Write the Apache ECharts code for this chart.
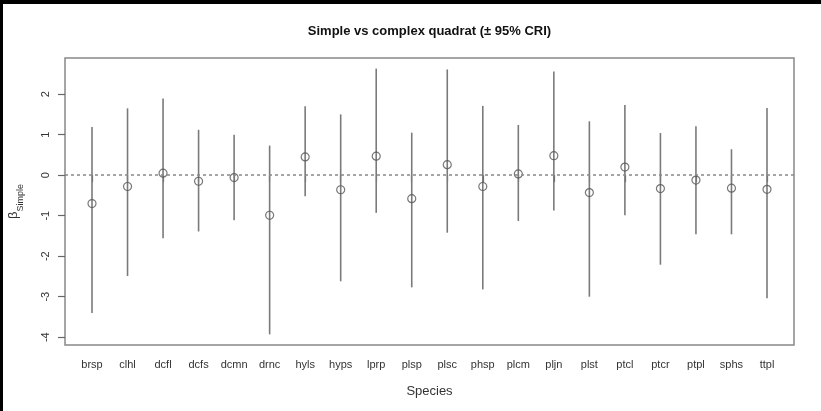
<!DOCTYPE html>
<html>
<head>
<meta charset="utf-8">
<script src="https://cdn.jsdelivr.net/npm/echarts@6/dist/echarts.min.js"></script>
<style>
html,body{margin:0;padding:0;background:#fff;}
#chart{width:821px;height:411px;}
</style>
</head>
<body>
<div id="chart"></div>
<script>
const species = ['brsp','clhl','dcfl','dcfs','dcmn','drnc','hyls','hyps','lprp','plsp','plsc','phsp','plcm','pljn','plst','ptcl','ptcr','ptpl','sphs','ttpl'];
const meanVals = [-0.70,-0.28,0.05,-0.15,-0.06,-0.99,0.45,-0.36,0.47,-0.58,0.26,-0.28,0.03,0.48,-0.43,0.20,-0.33,-0.12,-0.32,-0.35];
const upperVals = [1.19,1.65,1.89,1.12,1.00,0.73,1.70,1.50,2.63,1.05,2.61,1.71,1.24,2.56,1.33,1.73,1.04,1.21,0.64,1.66];
const lowerVals = [-3.40,-2.49,-1.56,-1.39,-1.11,-3.93,-0.52,-2.62,-0.93,-2.77,-1.42,-2.82,-1.13,-0.87,-3.00,-0.99,-2.21,-1.46,-1.46,-3.04];
const yTicks = [-4,-3,-2,-1,0,1,2];
const xPositions = species.map((s, i) => i + 1);

const FONT = "'Liberation Sans', Arial, Helvetica, sans-serif";
const lo = Math.min(...lowerVals), hi = Math.max(...upperVals);
const pad = (hi - lo) * 0.04;
const yMin = lo - pad, yMax = hi + pad;
const xPad = (species.length - 1) * 0.04;

const chart = echarts.init(document.getElementById('chart'), null, {renderer: 'canvas'});
const option = {
  animation: false,
  backgroundColor: '#fff',
  grid: {left: 65, top: 58, right: 27, bottom: 66, outerBoundsMode: 'none', containLabel: false,
    show: true, borderColor: '#888', borderWidth: 1.5, backgroundColor: 'transparent'},
  graphic: [
    {type: 'rect', shape: {x: 0, y: 0, width: 821, height: 4}, style: {fill: '#000'}, z: 100},
    {type: 'rect', shape: {x: 0, y: 0, width: 3, height: 411}, style: {fill: '#000'}, z: 100},
    {type: 'text', x: 429.5, y: 31, style: {text: 'Simple vs complex quadrat (\u00b1 95% CRI)', font: 'bold 13px ' + FONT, fill: '#111', textAlign: 'center', textVerticalAlign: 'middle'}}
  ],
  xAxis: {
    type: 'value', min: 1 - xPad, max: species.length + xPad,
    splitLine: {show: false},
    axisLine: {show: false},
    axisTick: {show: true, length: 7, lineStyle: {color: '#666', width: 1.2}, customValues: xPositions},
    axisLabel: {show: true, margin: 14, fontSize: 11, fontFamily: FONT, color: '#333', customValues: xPositions,
      formatter: v => species[Math.round(v) - 1] || ''},
    name: 'Species', nameLocation: 'middle', nameGap: 40,
    nameTextStyle: {fontSize: 13, fontFamily: FONT, color: '#333'}
  },
  yAxis: {
    type: 'value', min: yMin, max: yMax,
    splitLine: {show: false},
    axisLine: {show: false},
    axisTick: {show: true, length: 7, lineStyle: {color: '#666', width: 1.2}, customValues: yTicks},
    axisLabel: {show: true, rotate: 90, margin: 14, fontSize: 11, fontFamily: FONT, color: '#333', customValues: yTicks,
      formatter: v => String(Math.round(v))},
    name: '{b|\u03b2}{s|Simple}', nameLocation: 'middle', nameRotate: 90, nameGap: 40,
    nameTextStyle: {fontFamily: FONT, color: '#333',
      rich: {
        b: {fontSize: 13, fontFamily: FONT, color: '#333', verticalAlign: 'top', lineHeight: 18},
        s: {fontSize: 9, fontFamily: FONT, color: '#333', verticalAlign: 'bottom', lineHeight: 18}
      }}
  },
  series: [
    {
      type: 'custom',
      data: species.map((s, i) => [xPositions[i], lowerVals[i], upperVals[i]]),
      renderItem: function (params, api) {
        const p1 = api.coord([api.value(0), api.value(1)]);
        const p2 = api.coord([api.value(0), api.value(2)]);
        return {type: 'line', shape: {x1: p1[0], y1: p1[1], x2: p2[0], y2: p2[1]},
          style: {stroke: '#7a7a7a', lineWidth: 1.6}};
      },
      markLine: {
        silent: true, symbol: 'none', label: {show: false},
        lineStyle: {type: [3, 3], color: '#888', width: 1.6},
        data: [{yAxis: 0}]
      },
      z: 2
    },
    {
      type: 'scatter',
      data: species.map((s, i) => [xPositions[i], meanVals[i]]),
      symbol: 'circle', symbolSize: 8,
      itemStyle: {color: 'rgba(0,0,0,0)', borderColor: '#555', borderWidth: 1.2},
      z: 3
    }
  ]
};
chart.setOption(option);
</script>
</body>
</html>
